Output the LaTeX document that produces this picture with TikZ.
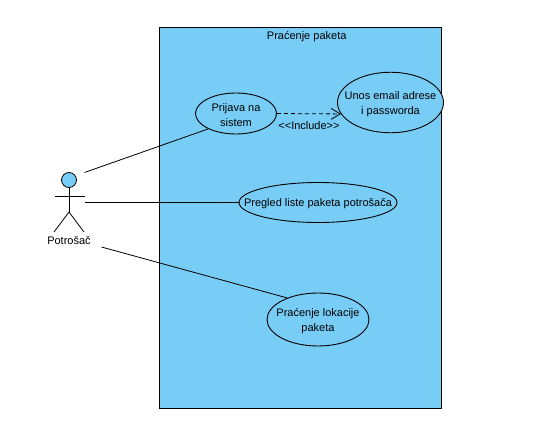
\documentclass[tikz,border=0pt]{standalone}
\usepackage{fontspec}
\setmainfont{Liberation Sans}
\usetikzlibrary{shapes.geometric,arrows.meta}
\definecolor{ucblue}{RGB}{120,205,247}
\tikzset{
  every node/.style={font=\fontsize{11}{15}\selectfont,text=black},
  usecase/.style={ellipse,draw=black,fill=ucblue,line width=0.9pt,inner sep=0pt},
  uctext/.style={align=center,inner sep=0pt,yshift=-1.5pt},
  assoc/.style={draw=black,line width=0.8pt},
  incl/.style={draw=black,line width=0.8pt,dash pattern=on 4pt off 3pt,-{Straight Barb[length=9pt,width=11pt,line width=0.8pt]}},
  sysbox/.style={draw=black,fill=ucblue,line width=0.8pt},
  actorline/.style={draw=black,line width=0.8pt},
}
\begin{document}
\begin{tikzpicture}[x=1pt,y=-1pt]
\useasboundingbox (0,0) rectangle (539,431);
\fill[white] (0,0) rectangle (539,431);
\draw[sysbox] (159.5,27.5) rectangle (441,408);
\node (title) at (306.7,36.5) {Praćenje paketa};
\node[usecase,minimum width=81pt,minimum height=41pt,label={[uctext]center:Prijava na\\sistem}] (prijava) at (236,113.5) {};
\node[usecase,minimum width=106pt,minimum height=60.5pt,label={[uctext]center:Unos email adrese\\i passworda}] (unos) at (390.5,102.5) {};
\node[usecase,minimum width=158pt,minimum height=40pt,label={[uctext]center:Pregled liste paketa potrošača}] (pregled) at (318,202.5) {};
\node[usecase,minimum width=102pt,minimum height=53pt,label={[uctext]center:Praćenje lokacije\\paketa}] (pracenje) at (318,319.5) {};
\draw[incl] (prijava.east) -- (unos.193);
\node (inclabel) at (309,125.5) {{<}{<}Include{>}{>}};
% actor
\node[circle,draw=black,fill=ucblue,line width=0.8pt,minimum size=15pt,inner sep=0pt] (head) at (69,180) {};
\coordinate (hip) at (69,212);
\coordinate (armL) at (55,196);
\coordinate (armR) at (84.5,196);
\coordinate (footL) at (54,232);
\coordinate (footR) at (84,232);
\draw[actorline] (head.south) -- (hip);
\draw[actorline] (armL) -- (armR);
\draw[actorline] (footL) -- (hip) -- (footR);
\node (actor) at (69,241) {Potrošač};
% associations
\coordinate (a1) at (84.5,172.5);
\coordinate (a2) at (84.5,202.5);
\coordinate (a3) at (101.5,247);
\draw[assoc] (a1) -- (prijava.209);
\draw[assoc] (a2) -- (pregled.west);
\draw[assoc] (a3) -- (pracenje.145);
\end{tikzpicture}
\end{document}
